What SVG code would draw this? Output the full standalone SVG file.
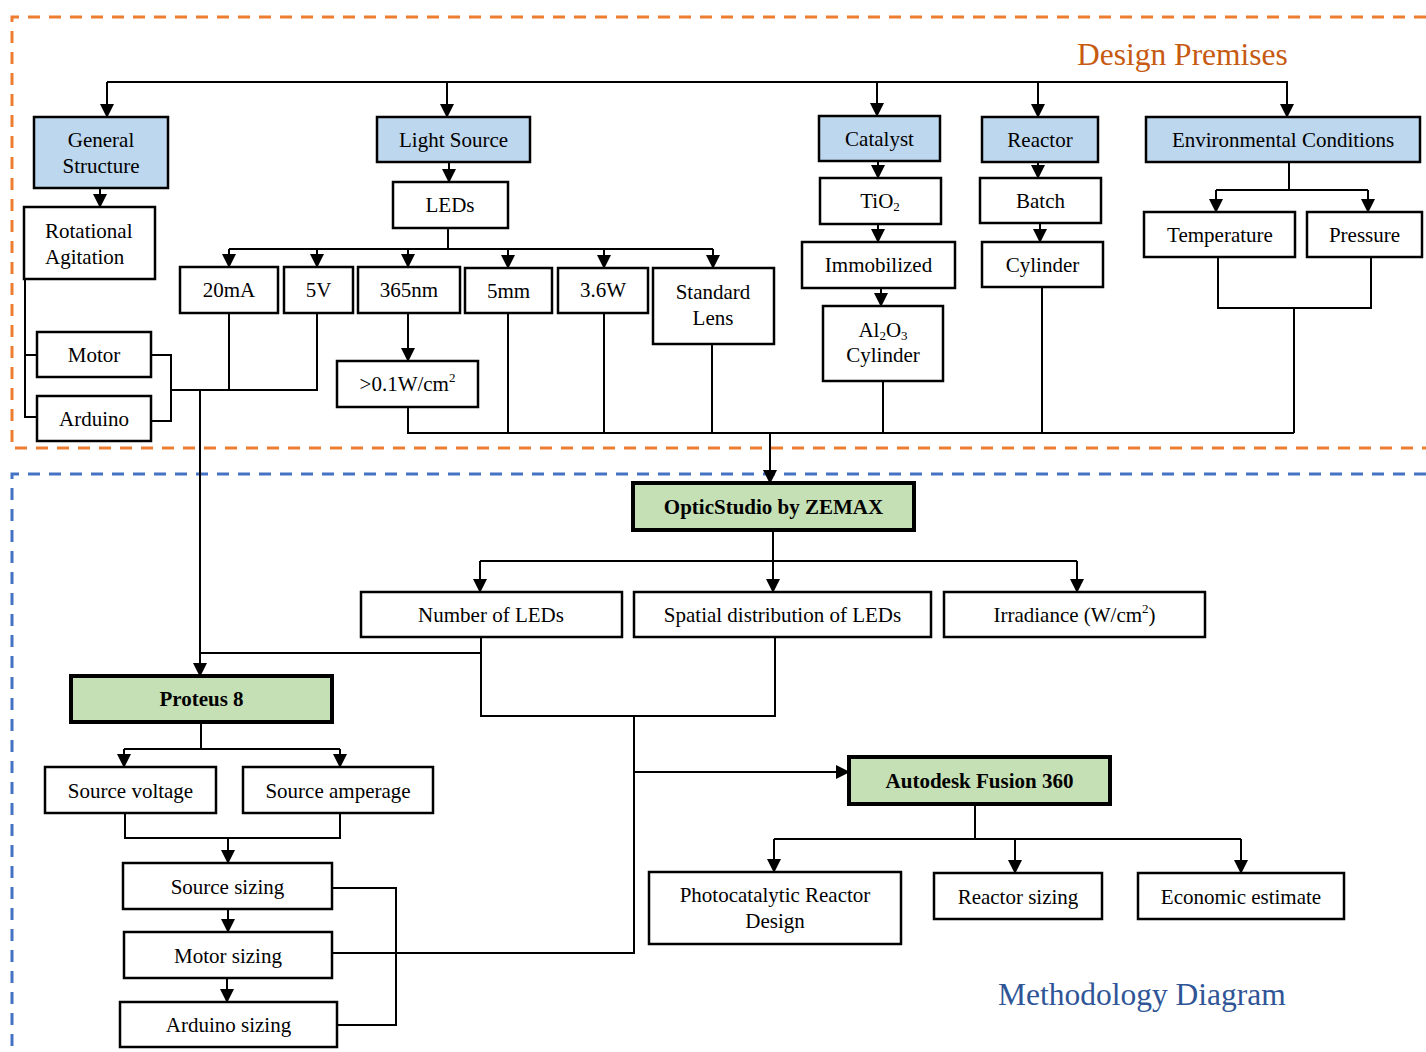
<svg xmlns="http://www.w3.org/2000/svg" width="1426" height="1052" viewBox="0 0 1426 1052">
<style>
text{font-family:"Liberation Serif","Times New Roman",serif;font-size:21px;fill:#000;text-anchor:middle}
.b{stroke:#000;stroke-width:2.5;fill:#fff}
.h{stroke:#000;stroke-width:2.5;fill:#BDD7EE}
.g{stroke:#000;stroke-width:4;fill:#C5E0B4}
.bold{font-weight:bold}
.c path{fill:none;stroke:#000;stroke-width:2}
.a{marker-end:url(#arr)}
.title{font-size:31.5px;text-anchor:start}
</style>
<defs>
<marker id="arr" viewBox="0 0 14 14" refX="13" refY="7" markerWidth="14" markerHeight="14" markerUnits="userSpaceOnUse" orient="auto">
<path d="M0,0 L14,7 L0,14 z" fill="#000"/>
</marker>
</defs>
<rect width="1426" height="1052" fill="#fff"/>
<g id="frames" fill="none" stroke-width="3" stroke-dasharray="12,9">
<path d="M1426,17 H12 V448 H1426" stroke="#ED7D31"/>
<path d="M1426,474 H12 V1052" stroke="#4472C4"/>
</g>
<text class="title" x="1077" y="65" fill="#C65A11" style="fill:#C65A11">Design Premises</text>
<text class="title" x="998" y="1005" style="fill:#2F5597">Methodology Diagram</text>

<g id="connectors" class="c">
<path d="M107,82 H1288"/>
<path class="a" d="M107,82 V117"/>
<path class="a" d="M447,82 V117"/>
<path class="a" d="M877,82 V116"/>
<path class="a" d="M1038,82 V117"/>
<path class="a" d="M1287,82 V117"/>
<path class="a" d="M100,188 V207"/>
<path class="a" d="M449,162 V182"/>
<path d="M448,228 V249 M229,249 H713"/>
<path class="a" d="M229,249 V267"/>
<path class="a" d="M317,249 V267"/>
<path class="a" d="M408,249 V267"/>
<path class="a" d="M508,249 V268"/>
<path class="a" d="M604,249 V268"/>
<path class="a" d="M713,249 V268"/>
<path class="a" d="M408,313 V361"/>
<path class="a" d="M878,161 V178"/>
<path class="a" d="M878,224 V242"/>
<path class="a" d="M881,288 V306"/>
<path class="a" d="M1038,162 V178"/>
<path class="a" d="M1040,223 V242"/>
<path d="M1289,162 V190 M1216,190 H1368"/>
<path class="a" d="M1216,190 V212"/>
<path class="a" d="M1368,190 V212"/>
<path d="M1218,257 V308 H1371 V257 M1294,308 V433"/>
<path d="M408,407 V433 H1294 M508,313 V433 M604,313 V433 M712,344 V433 M883,381 V433 M1042,287 V433"/>
<path class="a" d="M770,433 V483"/>
<path d="M25,279 V417 H37 M25,355 H37"/>
<path d="M151,355 H171 V421 H151 M171,390 H317 V313 M229,313 V390"/>
<path class="a" d="M200,390 V676"/>
<path d="M773,530 V561 M480,561 H1077"/>
<path class="a" d="M480,561 V592"/>
<path class="a" d="M773,561 V592"/>
<path class="a" d="M1077,561 V592"/>
<path d="M481,637 V716 H775 V637 M481,653 H200"/>
<path d="M634,716 V953 H332"/>
<path class="a" d="M634,772 H849"/>
<path d="M201,722 V749 M124,749 H340"/>
<path class="a" d="M124,749 V767"/>
<path class="a" d="M340,749 V767"/>
<path d="M125,813 V838 H340 V813"/>
<path class="a" d="M228,838 V863"/>
<path class="a" d="M228,909 V932"/>
<path class="a" d="M227,978 V1002"/>
<path d="M332,888 H396 V1025 H337"/>
<path d="M975,804 V839 M774,839 H1241"/>
<path class="a" d="M774,839 V872"/>
<path class="a" d="M1015,839 V873"/>
<path class="a" d="M1241,839 V873"/>
</g>

<g id="general-structure"><rect class="h" x="34" y="117" width="134" height="71"/><text x="101" y="147">General</text><text x="101" y="173">Structure</text></g>
<g id="rotational-agitation"><rect class="b" x="24" y="207" width="131" height="72"/><text x="45" y="238" style="text-anchor:start">Rotational</text><text x="45" y="264" style="text-anchor:start">Agitation</text></g>
<g id="motor"><rect class="b" x="37" y="332" width="114" height="45"/><text x="94" y="362">Motor</text></g>
<g id="arduino"><rect class="b" x="37" y="396" width="114" height="45"/><text x="94" y="426">Arduino</text></g>
<g id="light-source"><rect class="h" x="377" y="117" width="153" height="45"/><text x="453.5" y="147">Light Source</text></g>
<g id="leds"><rect class="b" x="393" y="182" width="115" height="46"/><text x="450" y="212">LEDs</text></g>
<g id="ma20"><rect class="b" x="180" y="267" width="98" height="46"/><text x="229" y="297">20mA</text></g>
<g id="v5"><rect class="b" x="284" y="267" width="69" height="46"/><text x="318.5" y="297">5V</text></g>
<g id="nm365"><rect class="b" x="358" y="267" width="102" height="46"/><text x="409" y="297">365nm</text></g>
<g id="mm5"><rect class="b" x="465" y="268" width="87" height="45"/><text x="508.5" y="298">5mm</text></g>
<g id="w36"><rect class="b" x="558" y="268" width="90" height="45"/><text x="603" y="297">3.6W</text></g>
<g id="standard-lens"><rect class="b" x="653" y="268" width="121" height="76"/><text x="713" y="299">Standard</text><text x="713" y="325">Lens</text></g>
<g id="irr01"><rect class="b" x="337" y="361" width="141" height="46"/><text x="407.5" y="391">&gt;0.1W/cm<tspan font-size="13" dy="-9">2</tspan></text></g>
<g id="catalyst"><rect class="h" x="819" y="116" width="121" height="45"/><text x="879.5" y="146">Catalyst</text></g>
<g id="tio2"><rect class="b" x="820" y="178" width="121" height="46"/><text x="880" y="208">TiO<tspan font-size="13" dy="3">2</tspan></text></g>
<g id="immobilized"><rect class="b" x="802" y="242" width="153" height="46"/><text x="878.5" y="272">Immobilized</text></g>
<g id="al2o3"><rect class="b" x="823" y="306" width="120" height="75"/><text x="883" y="337">Al<tspan font-size="13" dy="3">2</tspan><tspan dy="-3">O</tspan><tspan font-size="13" dy="3">3</tspan></text><text x="883" y="362">Cylinder</text></g>
<g id="reactor"><rect class="h" x="982" y="117" width="116" height="45"/><text x="1040" y="147">Reactor</text></g>
<g id="batch"><rect class="b" x="980" y="178" width="121" height="45"/><text x="1040.5" y="208">Batch</text></g>
<g id="cylinder"><rect class="b" x="982" y="242" width="121" height="45"/><text x="1042.5" y="272">Cylinder</text></g>
<g id="environmental"><rect class="h" x="1146" y="117" width="274" height="45"/><text x="1283" y="147">Environmental Conditions</text></g>
<g id="temperature"><rect class="b" x="1144" y="212" width="151" height="45"/><text x="1220" y="242">Temperature</text></g>
<g id="pressure"><rect class="b" x="1307" y="212" width="115" height="45"/><text x="1364.5" y="242">Pressure</text></g>

<g id="opticstudio"><rect class="g" x="633" y="483" width="281" height="47"/><text class="bold" x="773.5" y="514">OpticStudio by ZEMAX</text></g>
<g id="number-leds"><rect class="b" x="361" y="592" width="261" height="45"/><text x="491" y="622">Number of LEDs</text></g>
<g id="spatial"><rect class="b" x="634" y="592" width="297" height="45"/><text x="782.5" y="622">Spatial distribution of LEDs</text></g>
<g id="irradiance"><rect class="b" x="944" y="592" width="261" height="45"/><text x="1074.5" y="622">Irradiance (W/cm<tspan font-size="13" dy="-9">2</tspan><tspan dy="9">)</tspan></text></g>
<g id="proteus"><rect class="g" x="71" y="676" width="261" height="46"/><text class="bold" x="201.5" y="706">Proteus 8</text></g>
<g id="source-voltage"><rect class="b" x="45" y="767" width="171" height="46"/><text x="130.5" y="798">Source voltage</text></g>
<g id="source-amperage"><rect class="b" x="243" y="767" width="190" height="46"/><text x="338" y="798">Source amperage</text></g>
<g id="source-sizing"><rect class="b" x="123" y="863" width="209" height="46"/><text x="227.5" y="894">Source sizing</text></g>
<g id="motor-sizing"><rect class="b" x="124" y="932" width="208" height="46"/><text x="228" y="963">Motor sizing</text></g>
<g id="arduino-sizing"><rect class="b" x="120" y="1002" width="217" height="45"/><text x="228.5" y="1032">Arduino sizing</text></g>
<g id="autodesk"><rect class="g" x="849" y="757" width="261" height="47"/><text class="bold" x="979.5" y="788">Autodesk Fusion 360</text></g>
<g id="photocatalytic"><rect class="b" x="649" y="872" width="252" height="72"/><text x="775" y="902">Photocatalytic Reactor</text><text x="775" y="928">Design</text></g>
<g id="reactor-sizing"><rect class="b" x="934" y="873" width="168" height="46"/><text x="1018" y="904">Reactor sizing</text></g>
<g id="economic"><rect class="b" x="1138" y="873" width="206" height="46"/><text x="1241" y="904">Economic estimate</text></g>
</svg>
